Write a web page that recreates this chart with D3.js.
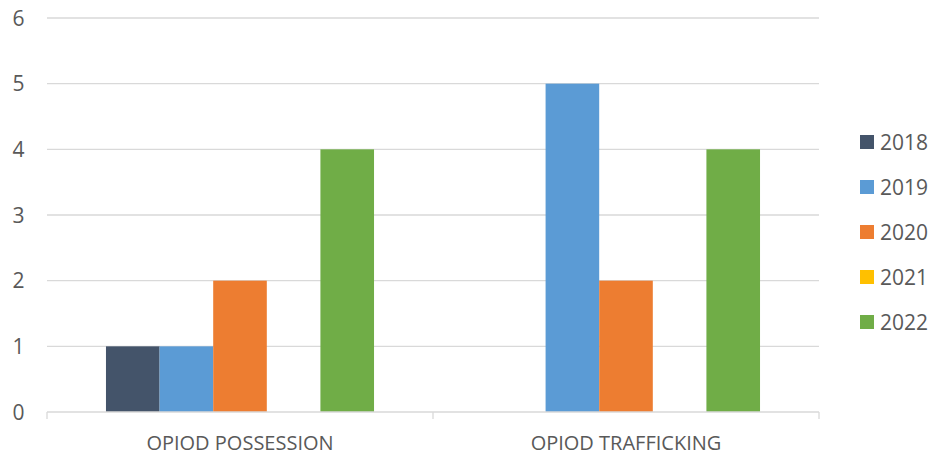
<!DOCTYPE html>
<html><head><meta charset="utf-8">
<script src="https://cdn.jsdelivr.net/npm/d3@7"></script>
<style>body{margin:0;background:#fff;} svg{display:block;}</style>
</head><body>
<svg id="c" width="933" height="457"></svg>
<script>
const categories = ["OPIOD POSSESSION", "OPIOD TRAFFICKING"];
const years = ["2018", "2019", "2020", "2021", "2022"];
const v2018 = [1, 0];
const v2019 = [1, 5];
const v2020 = [2, 2];
const v2021 = [0, 0];
const v2022 = [4, 4];
const yTicks = [0, 1, 2, 3, 4, 5, 6];
const colors = ["#44546A", "#5B9BD5", "#ED7D31", "#FFC000", "#70AD47"];
const series = [v2018, v2019, v2020, v2021, v2022];

const svg = d3.select("#c");
const L = 47, R = 819, T = 18, B = 412;
const font = "'Open Sans', sans-serif";
const txt = "#595959";

const x0 = d3.scaleBand().domain(categories).range([L, R]).paddingInner(0).paddingOuter(0);
const x1 = d3.scaleBand().domain(years).range([0, x0.bandwidth()]).paddingOuter(1.1).paddingInner(0);
const y = d3.scaleLinear().domain([0, 6]).range([B, T]);

// gridlines
svg.append("g").selectAll("line").data(yTicks.filter(d => d > 0)).join("line")
  .attr("x1", L).attr("x2", R).attr("y1", d => y(d)).attr("y2", d => y(d))
  .attr("stroke", "#d9d9d9").attr("stroke-width", 1.3);

// y labels
svg.append("g").selectAll("text").data(yTicks).join("text")
  .attr("x", 18.5).attr("y", d => y(d)).attr("dy", "0.36em")
  .attr("text-anchor", "middle").attr("font-family", font).attr("font-size", 21)
  .attr("fill", txt).text(d => d);

// bars
const g = svg.append("g");
categories.forEach((c, ci) => {
  years.forEach((yr, si) => {
    const v = series[si][ci];
    if (v > 0) {
      g.append("rect")
        .attr("x", x0(c) + x1(yr)).attr("width", x1.bandwidth())
        .attr("y", y(v)).attr("height", y(0) - y(v))
        .attr("fill", colors[si]);
    }
  });
});

// x axis
svg.append("line").attr("x1", L).attr("x2", R).attr("y1", B).attr("y2", B)
  .attr("stroke", "#d9d9d9").attr("stroke-width", 1.3);
const bounds = [L, x0(categories[1]), R];
svg.append("g").selectAll("line").data(bounds).join("line")
  .attr("x1", d => d).attr("x2", d => d).attr("y1", B).attr("y2", B + 7)
  .attr("stroke", "#d9d9d9").attr("stroke-width", 1.3);
svg.append("g").selectAll("text").data(categories).join("text")
  .attr("x", d => x0(d) + x0.bandwidth() / 2).attr("y", 450)
  .attr("text-anchor", "middle").attr("font-family", font).attr("font-size", 20)
  .attr("fill", txt).text(d => d);

// legend
const lg = svg.append("g");
years.forEach((yr, i) => {
  const cy = 142 + i * 45;
  lg.append("rect").attr("x", 860).attr("y", cy - 7).attr("width", 14).attr("height", 14).attr("fill", colors[i]);
  lg.append("text").attr("x", 880).attr("y", cy).attr("dy", "0.36em")
    .attr("font-family", font).attr("font-size", 21).attr("fill", txt).text(yr);
});
</script>
</body></html>
